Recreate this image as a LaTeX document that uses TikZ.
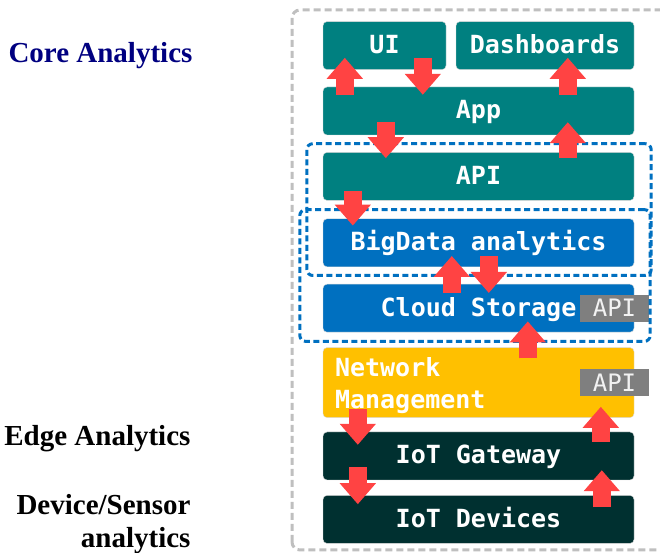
\documentclass[tikz,border=0pt]{standalone}
\usepackage{fontspec}
\setmainfont{Liberation Serif}
\newfontfamily\boxfont{DejaVu Sans Mono}
\usepackage{tikz}
\usetikzlibrary{arrows.meta,positioning,fit,calc}
\definecolor{coreteal}{HTML}{008080}
\definecolor{cloudblue}{HTML}{0070C0}
\definecolor{netamber}{HTML}{FFC000}
\definecolor{edgedark}{HTML}{003030}
\definecolor{flowred}{HTML}{FF4343}
\definecolor{tagrey}{HTML}{7F7F7F}
\definecolor{coreblue}{HTML}{000080}

\begin{document}
\begin{tikzpicture}[x=1pt,y=1pt,
layer/.style={draw=black!15,rounded corners=4pt,minimum height=48pt,
minimum width=311pt,text=white,inner sep=0pt,
font=\boxfont\bfseries\fontsize{25}{32}\selectfont,
text height=19.5pt,text depth=3.5pt},
tealbox/.style={layer,fill=coreteal},
bluebox/.style={layer,fill=cloudblue},
darkbox/.style={layer,fill=edgedark},
apitag/.style={fill=tagrey,text=black!5,minimum width=69pt,minimum height=27pt,
inner sep=0pt,font=\boxfont\fontsize{24}{28}\selectfont},
grp/.style={draw=cloudblue,dash pattern=on 6pt off 3.5pt,line width=3pt,
rounded corners=6pt},
side/.style={font=\bfseries\fontsize{29}{33}\selectfont,align=right},
blk/.style={draw=flowred,line width=18pt,-{Triangle[width=35pt,length=21pt]}}
]
\useasboundingbox (0,0) rectangle (660,553);
% outer frame
\draw[black!25,line width=3pt,dash pattern=on 7pt off 4pt,rounded corners=8pt]
  (292,3) rectangle (675,543);

% layers
\node[tealbox] (app) at (478.5,442) {App};
\node[tealbox,minimum width=123pt,above=17pt of app.north west,anchor=south west] (ui) {UI};
\node[tealbox,minimum width=178pt,above=17pt of app.north east,anchor=south east] (dash) {Dashboards};
\node[tealbox,below=17pt of app] (api) {API};
\node[bluebox,below=18pt of api] (bigdata) {BigData analytics};
\node[bluebox,below=17pt of bigdata] (cloud) {Cloud Storage};
\node[layer,fill=netamber,below=15pt of cloud,minimum height=70pt,text height=25pt,text depth=,
  align=left,text width=287pt,inner xsep=12pt] (nm) {Network\\Management};
\node[darkbox,below=14pt of nm] (gw) {IoT Gateway};
\node[darkbox,below=15pt of gw] (dev) {IoT Devices};

\node[apitag,anchor=east] (cloudapi) at ([xshift=15pt]cloud.east) {API};
\node[apitag,anchor=east] (nmapi) at ([xshift=15pt]nm.east) {API};

% dashed groups
\node[grp,fit=(api)(bigdata),inner xsep=16.5pt,inner ysep=8.5pt,xshift=0.5pt] (grpa) {};
\node[grp,fit=(bigdata)(cloud),inner xsep=19.5pt,inner ysep=9pt,xshift=-3.5pt] (grpb) {};

% flows
\draw[blk] ([xshift=22pt,yshift=-8pt]app.north west) -- ([xshift=22pt,yshift=12pt]ui.south west);
\draw[blk] ([xshift=100pt,yshift=12pt]ui.south west) -- ([xshift=100pt,yshift=-8pt]app.north west);
\draw[blk] ([xshift=245pt,yshift=-8pt]app.north west) -- ([xshift=112pt,yshift=12pt]dash.south west);
\draw[blk] ([xshift=63pt,yshift=13pt]app.south west) -- ([xshift=63pt,yshift=-6pt]api.north west);
\draw[blk] ([xshift=245pt,yshift=-6pt]api.north west) -- ([xshift=245pt,yshift=13pt]app.south west);
\draw[blk] ([xshift=30pt,yshift=10pt]api.south west) -- ([xshift=30pt,yshift=-7pt]bigdata.north west);
\draw[blk] ([xshift=129pt,yshift=-9pt]cloud.north west) -- ([xshift=129pt,yshift=11pt]bigdata.south west);
\draw[blk] ([xshift=166pt,yshift=11pt]bigdata.south west) -- ([xshift=166pt,yshift=-9pt]cloud.north west);
\draw[blk] ([xshift=205pt,yshift=-11pt]nm.north west) -- ([xshift=205pt,yshift=11pt]cloud.south west);
\draw[blk] ([xshift=35pt,yshift=9pt]nm.south west) -- ([xshift=35pt,yshift=-13pt]gw.north west);
\draw[blk] ([xshift=278pt,yshift=-10pt]gw.north west) -- ([xshift=278pt,yshift=11pt]nm.south west);
\draw[blk] ([xshift=35pt,yshift=13pt]gw.south west) -- ([xshift=35pt,yshift=-9pt]dev.north west);
\draw[blk] ([xshift=279pt,yshift=-12pt]dev.north west) -- ([xshift=279pt,yshift=10pt]gw.south west);

% tiers
\node[side,text=coreblue] (core) at (100.5,497) {Core Analytics};
\node[side,anchor=east] (edge) at (194,114) {Edge Analytics};
\node[side,anchor=east] (device) at (194,29) {Device/Sensor\\analytics};
\end{tikzpicture}
\end{document}
